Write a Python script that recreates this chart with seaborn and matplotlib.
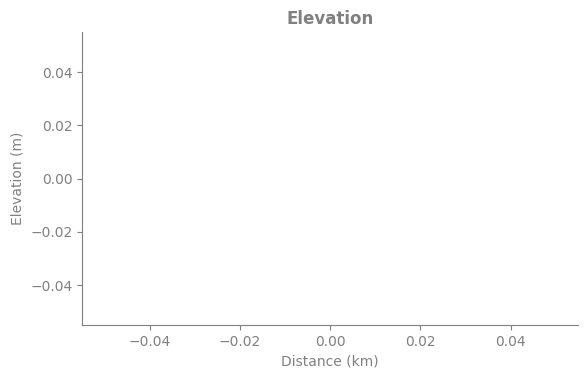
import matplotlib
matplotlib.use("Agg")
import matplotlib.pyplot as plt
import seaborn as sns
import pandas as pd

# Data (the reference chart has no data points)
distance_km = []
elevation_m = []

df = pd.DataFrame({"Distance (km)": pd.Series(distance_km, dtype=float),
                   "Elevation (m)": pd.Series(elevation_m, dtype=float)})

sns.set_style("ticks")
plt.rcParams['font.family'] = ['DejaVu Sans']
gray = "#808080"

fig, ax = plt.subplots(figsize=(5.87, 3.78), dpi=100)
ax.plot(df["Distance (km)"], df["Elevation (m)"], color="#1f77b4")

ax.set_title("Elevation", color=gray, fontweight="bold", fontsize=12)
ax.set_xlabel("Distance (km)", color=gray, fontsize=10)
ax.set_ylabel("Elevation (m)", color=gray, fontsize=10)
ax.tick_params(colors=gray, labelcolor=gray, labelsize=10)
for s in ["left", "bottom"]:
    ax.spines[s].set_color(gray)
sns.despine(ax=ax)

fig.subplots_adjust(left=0.14, right=0.985, top=0.915, bottom=0.14)
fig.savefig("out.png", dpi=100)
